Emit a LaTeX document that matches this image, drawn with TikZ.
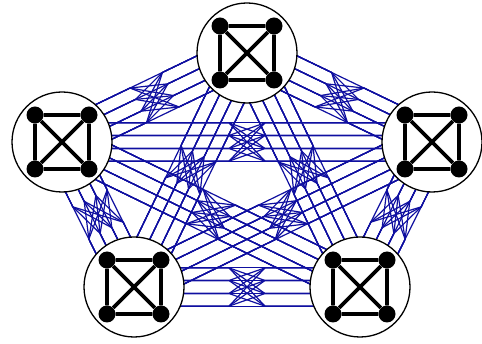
\documentclass[tikz,border=0pt]{standalone}
\usetikzlibrary{calc,backgrounds}
\definecolor{edgeblue}{RGB}{15,15,160}
\begin{document}
\begin{tikzpicture}[x=1pt,y=-1pt,
  hub/.style={circle,draw=black,line width=1.3pt,fill=white,minimum size=100pt,inner sep=0pt},
  kdot/.style={circle,fill=black,minimum size=17pt,inner sep=0pt},
  kedge/.style={line width=3.6pt,black},
  link/.style={edgeblue,line width=1.2pt,line join=round}]
\useasboundingbox (0,0) rectangle (482,344);
\node[hub] (T)  at (247,53)  {};
\node[hub] (L)  at (62,142)  {};
\node[hub] (R)  at (432,142) {};
\node[hub] (BL) at (134,287) {};
\node[hub] (BR) at (360,287) {};
\begin{scope}[on background layer]
\foreach \a/\b in {T/L,T/R,T/BL,T/BR,L/R,L/BL,L/BR,R/BL,R/BR,BL/BR}{
  \foreach \q/\o/\mo in {1/-22.5/22.5,2/-7.5/7.5,3/7.5/-7.5,4/22.5/-22.5}{
    \coordinate (pa\q) at ($(\a.center)!50pt!\o:(\b.center)$);
    \coordinate (pb\q) at ($(\b.center)!50pt!\mo:(\a.center)$);
    \coordinate (m\q) at ($(pa\q)!0.5!(pb\q)$);
    \coordinate (sa\q) at ($(m\q)!18pt!(pa\q)$);
    \coordinate (sb\q) at ($(m\q)!18pt!(pb\q)$);
  }
  \foreach \i in {1,...,4}{
    \foreach \j in {1,...,4}{
      \draw[link] (pa\i) -- (sa\i) -- (sb\j) -- (pb\j);
    }
  }
}
\end{scope}
\foreach \n in {T,L,R,BL,BR}{
  \node[kdot] (\n1) at ($(\n.center)+(-27,-27)$) {};
  \node[kdot] (\n2) at ($(\n.center)+(27,-27)$) {};
  \node[kdot] (\n3) at ($(\n.center)+(-27,27)$) {};
  \node[kdot] (\n4) at ($(\n.center)+(27,27)$) {};
  \draw[kedge] (\n1)--(\n2) (\n2)--(\n4) (\n4)--(\n3) (\n3)--(\n1) (\n1)--(\n4) (\n2)--(\n3);
}
\end{tikzpicture}
\end{document}
